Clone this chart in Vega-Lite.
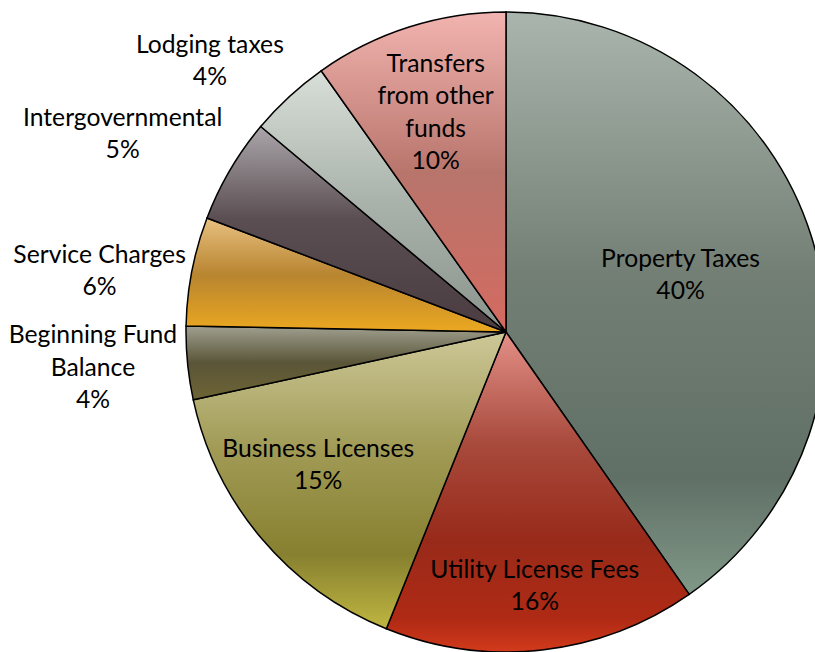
{
  "$schema": "https://vega.github.io/schema/vega-lite/v6.json",
  "width": 618,
  "height": 640,
  "autosize": {"type": "none"},
  "padding": {"left": 197, "top": 12, "right": 0, "bottom": 0},
  "background": "white",
  "view": {"stroke": null},
  "data": {
    "values": [
      {"rank": 1, "source": "Property Taxes", "value": 40.3, "label": "Property Taxes\n40%"},
      {"rank": 2, "source": "Utility License Fees", "value": 15.8, "label": "Utility License Fees\n16%"},
      {"rank": 3, "source": "Business Licenses", "value": 15.5, "label": "Business Licenses\n15%"},
      {"rank": 4, "source": "Beginning Fund Balance", "value": 3.7, "label": "Beginning Fund\nBalance\n4%"},
      {"rank": 5, "source": "Service Charges", "value": 5.5, "label": "Service Charges\n6%"},
      {"rank": 6, "source": "Intergovernmental", "value": 5.3, "label": "Intergovernmental\n5%"},
      {"rank": 7, "source": "Lodging taxes", "value": 4.1, "label": "Lodging taxes\n4%"},
      {"rank": 8, "source": "Transfers from other funds", "value": 9.8, "label": "Transfers\nfrom other\nfunds\n10%"}
    ]
  },
  "encoding": {
    "theta": {"field": "value", "type": "quantitative", "stack": true},
    "order": {"field": "rank", "type": "quantitative", "sort": "ascending"}
  },
  "layer": [
    {
      "mark": {"type": "arc", "outerRadius": 320, "stroke": "#000000", "strokeWidth": 1.5},
      "encoding": {
        "fill": {
          "condition": [
            {"test": "datum.source === 'Property Taxes'", "value": {"gradient": "linear", "x1": 0, "y1": 0, "x2": 0, "y2": 1, "stops": [{"offset": 0, "color": "#aab5ad"}, {"offset": 0.45, "color": "#737f74"}, {"offset": 0.8, "color": "#607066"}, {"offset": 1, "color": "#809887"}]}},
            {"test": "datum.source === 'Utility License Fees'", "value": {"gradient": "linear", "x1": 0, "y1": 0, "x2": 0, "y2": 1, "stops": [{"offset": 0, "color": "#e39088"}, {"offset": 0.35, "color": "#a84a3c"}, {"offset": 0.65, "color": "#982a1a"}, {"offset": 0.9, "color": "#b02a14"}, {"offset": 1, "color": "#d23a1c"}]}},
            {"test": "datum.source === 'Business Licenses'", "value": {"gradient": "linear", "x1": 0, "y1": 0, "x2": 0, "y2": 1, "stops": [{"offset": 0, "color": "#cdc898"}, {"offset": 0.4, "color": "#a09a55"}, {"offset": 0.75, "color": "#878030"}, {"offset": 1, "color": "#bfb640"}]}},
            {"test": "datum.source === 'Beginning Fund Balance'", "value": {"gradient": "linear", "x1": 0, "y1": 0, "x2": 0, "y2": 1, "stops": [{"offset": 0, "color": "#a0a090"}, {"offset": 0.5, "color": "#5a5538"}, {"offset": 1, "color": "#6e6434"}]}},
            {"test": "datum.source === 'Service Charges'", "value": {"gradient": "linear", "x1": 0, "y1": 0, "x2": 0, "y2": 1, "stops": [{"offset": 0, "color": "#e8c080"}, {"offset": 0.5, "color": "#b88530"}, {"offset": 1, "color": "#eca820"}]}},
            {"test": "datum.source === 'Intergovernmental'", "value": {"gradient": "linear", "x1": 0, "y1": 0, "x2": 0, "y2": 1, "stops": [{"offset": 0, "color": "#aba6aa"}, {"offset": 0.45, "color": "#5a4e52"}, {"offset": 1, "color": "#4a3c40"}]}},
            {"test": "datum.source === 'Lodging taxes'", "value": {"gradient": "linear", "x1": 0, "y1": 0, "x2": 0, "y2": 1, "stops": [{"offset": 0, "color": "#d8dfd8"}, {"offset": 0.5, "color": "#aab3ab"}, {"offset": 1, "color": "#8a948c"}]}}
          ],
          "value": {"gradient": "linear", "x1": 0, "y1": 0, "x2": 0, "y2": 1, "stops": [{"offset": 0, "color": "#f2b4b0"}, {"offset": 0.5, "color": "#b8756c"}, {"offset": 1, "color": "#d46a60"}]}
        }
      }
    },
    {
      "mark": {"type": "text", "radius": 183, "dy": -17, "font": "Lato", "fontSize": 24.7, "lineHeight": 32, "lineBreak": "\n", "fill": "#000000"},
      "encoding": {"text": {"condition": {"test": "datum.source === 'Property Taxes'", "field": "label"}, "value": ""}}
    },
    {
      "mark": {"type": "text", "radius": 255, "dy": -14, "font": "Lato", "fontSize": 24.7, "lineHeight": 32, "lineBreak": "\n", "fill": "#000000"},
      "encoding": {"text": {"condition": {"test": "datum.source === 'Utility License Fees'", "field": "label"}, "value": ""}}
    },
    {
      "mark": {"type": "text", "radius": 230, "dx": -12, "dy": -30, "font": "Lato", "fontSize": 24.7, "lineHeight": 32, "lineBreak": "\n", "fill": "#000000"},
      "encoding": {"text": {"condition": {"test": "datum.source === 'Business Licenses'", "field": "label"}, "value": ""}}
    },
    {
      "mark": {"type": "text", "radius": 232, "dy": -46, "font": "Lato", "fontSize": 24.7, "lineHeight": 32.3, "lineBreak": "\n", "fill": "#000000"},
      "encoding": {"text": {"condition": {"test": "datum.source === 'Transfers from other funds'", "field": "label"}, "value": ""}}
    },
    {
      "mark": {"type": "text", "radius": 415, "dy": -36, "font": "Lato", "fontSize": 24.7, "lineHeight": 32.3, "lineBreak": "\n", "fill": "#000000"},
      "encoding": {"text": {"condition": {"test": "datum.source === 'Beginning Fund Balance'", "field": "label"}, "value": ""}}
    },
    {
      "mark": {"type": "text", "radius": 414, "dy": 3, "font": "Lato", "fontSize": 24.7, "lineHeight": 32, "lineBreak": "\n", "fill": "#000000"},
      "encoding": {"text": {"condition": {"test": "datum.source === 'Service Charges'", "field": "label"}, "value": ""}}
    },
    {
      "mark": {"type": "text", "radius": 433, "dx": -10, "dy": 6, "font": "Lato", "fontSize": 24.7, "lineHeight": 32.5, "lineBreak": "\n", "fill": "#000000"},
      "encoding": {"text": {"condition": {"test": "datum.source === 'Intergovernmental'", "field": "label"}, "value": ""}}
    },
    {
      "mark": {"type": "text", "radius": 403, "dx": -23, "dy": 10, "font": "Lato", "fontSize": 24.7, "lineHeight": 32, "lineBreak": "\n", "fill": "#000000"},
      "encoding": {"text": {"condition": {"test": "datum.source === 'Lodging taxes'", "field": "label"}, "value": ""}}
    }
  ]
}
